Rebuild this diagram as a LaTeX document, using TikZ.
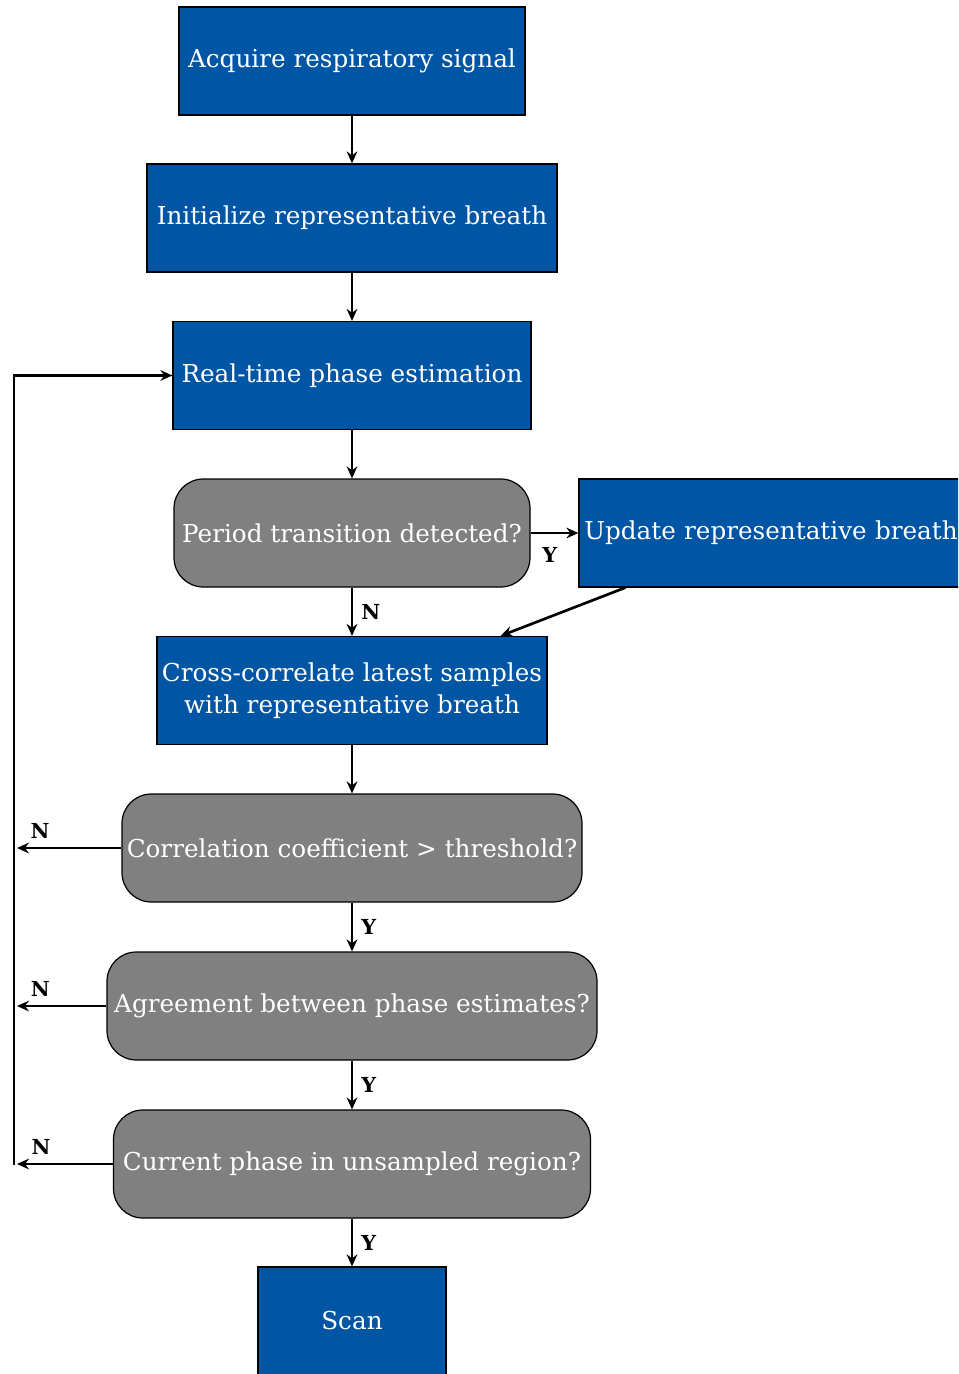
\documentclass[tikz,border=0pt]{standalone}
\usepackage{fontspec}
\setmainfont{DejaVu Serif}
\usetikzlibrary{arrows.meta,calc}
\definecolor{boxblue}{RGB}{0,85,164}
\definecolor{boxgray}{RGB}{128,128,128}
\begin{document}
\begin{tikzpicture}[x=0.75pt,y=-0.75pt,
  base/.style={draw=black,line width=0.9pt,text=white,minimum height=81pt,inner sep=0pt,align=center,font=\fontsize{18.5}{24}\selectfont},
  bluebox/.style={base,fill=boxblue},
  graybox/.style={base,fill=boxgray,rounded corners=22pt},
  arr/.style={line width=2pt,-{Stealth[length=9pt,width=8pt,inset=3pt]}},
  plain/.style={line width=2pt,line cap=rect},
  lbl/.style={font=\fontsize{15.5}{17}\selectfont\bfseries,text=black,inner sep=0pt}]
\useasboundingbox (0,0) rectangle (958,1374);
\clip (0,0) rectangle (958,1374);
\node[bluebox,minimum width=259.5pt] (acq) at (352,61) {Acquire respiratory signal};
\node[bluebox,minimum width=307.5pt] (init) at (352,218) {Initialize representative breath};
\node[bluebox,minimum width=268.5pt] (rt) at (352,375.5) {Real-time phase estimation};
\node[graybox,minimum width=267pt] (d1) at (352,533) {Period transition detected?};
\node[bluebox,minimum width=288pt,text width=288pt] (up) at (771,533) {Update representative breath};
\node[bluebox,minimum width=292.5pt] (cc) at (352,690.5) {Cross-correlate latest samples\\with representative breath};
\node[graybox,minimum width=345pt] (d2) at (352,848) {Correlation coefficient > threshold?};
\node[graybox,minimum width=367.5pt] (d3) at (352,1006) {Agreement between phase estimates?};
\node[graybox,minimum width=357.75pt] (d4) at (352,1164) {Current phase in unsampled region?};
\node[bluebox,minimum width=141pt] (scan) at (352,1321) {Scan};
\coordinate (l1) at (17,848);
\coordinate (l2) at (17,1006);
\coordinate (l3) at (17,1164);
\coordinate (lbot) at (14,1164);
\coordinate (ltop) at (14,375.5);
\draw[arr] (acq.south) -- (init.north);
\draw[arr] (init.south) -- (rt.north);
\draw[arr] (rt.south) -- (d1.north);
\draw[arr] (d1.east) -- (up.west) node[lbl,pos=0.4,below=10pt] {Y};
\draw[arr] (d1.south) -- (cc.north) node[lbl,midway,right=6pt] {N};
\draw[arr] ([xshift=35.25pt]up.south west) -- ([xshift=-35.25pt]cc.north east);
\draw[arr] (cc.south) -- (d2.north);
\draw[arr] (d2.south) -- (d3.north) node[lbl,midway,right=6pt] {Y};
\draw[arr] (d3.south) -- (d4.north) node[lbl,midway,right=6pt] {Y};
\draw[arr] (d4.south) -- (scan.north) node[lbl,midway,right=6pt] {Y};
\draw[arr] (d2.west) -- (l1) node[lbl,pos=0.78,above=6pt] {N};
\draw[arr] (d3.west) -- (l2) node[lbl,pos=0.74,above=6pt] {N};
\draw[arr] (d4.west) -- (l3) node[lbl,pos=0.75,above=6pt] {N};
\draw[plain] (lbot) -- (ltop);
\draw[arr] (ltop) -- (rt.west);
\end{tikzpicture}
\end{document}
